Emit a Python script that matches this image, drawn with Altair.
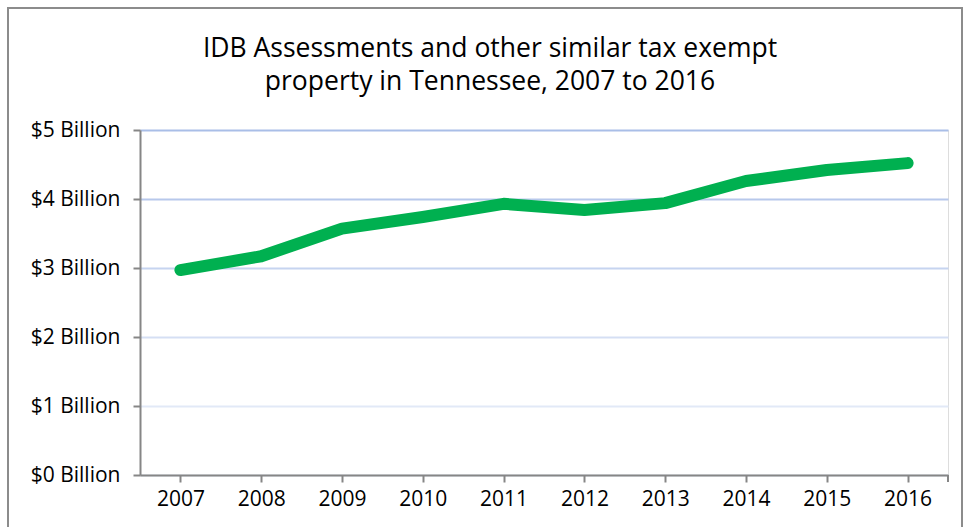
import altair as alt
import pandas as pd

years = ["2007", "2008", "2009", "2010", "2011", "2012", "2013", "2014", "2015", "2016"]
values = [2.97, 3.17, 3.57, 3.74, 3.93, 3.84, 3.94, 4.26, 4.42, 4.52]
y_ticks = [0, 1, 2, 3, 4, 5]
title_lines = ["IDB Assessments and other similar tax exempt", "property in Tennessee, 2007 to 2016"]

df = pd.DataFrame({"year": years, "value": values})
title_df = pd.DataFrame({"line": title_lines})

FONT = "Open Sans"

grid_color = {
    "condition": [
        {"test": "datum.value >= 5", "value": "#a9bee7"},
        {"test": "datum.value >= 4", "value": "#b7c8eb"},
        {"test": "datum.value >= 3", "value": "#c6d4f0"},
        {"test": "datum.value >= 2", "value": "#d5dff4"},
    ],
    "value": "#e2e9f7",
}

line = alt.Chart(df).mark_line(
    color="#00b050", strokeWidth=12, strokeCap="round", strokeJoin="round"
).encode(
    x=alt.X("year:O", sort=years, title=None,
            scale=alt.Scale(paddingInner=0, paddingOuter=0),
            axis=alt.Axis(labelAngle=0, labelFont=FONT, labelFontSize=21, labelColor="#000000",
                          labelPadding=6, tickSize=7, tickColor="#868686", domainColor="#868686",
                          domainWidth=2, tickWidth=2, bandPosition=0, grid=False)),
    y=alt.Y("value:Q", title=None,
            scale=alt.Scale(domain=[0, 5], nice=False),
            axis=alt.Axis(values=y_ticks, labelExpr="'$' + datum.value + ' Billion'",
                          labelFont=FONT, labelFontSize=21, labelColor="#000000",
                          labelPadding=13, tickSize=7, tickColor="#868686", domainColor="#868686",
                          domainWidth=2, tickWidth=2, gridColor=grid_color, gridWidth=2)),
)

frame = alt.Chart(df).mark_rect(fill=None, stroke="#8c8c8c", strokeWidth=2).encode(
    x=alt.value(-132), x2=alt.value(822), y=alt.value(-122), y2=alt.value(420)
)

end_tick = alt.Chart(df).mark_rule(color="#868686", strokeWidth=2).encode(
    x=alt.value(808), y=alt.value(345), y2=alt.value(352)
)

title = alt.Chart(title_df).mark_text(
    font=FONT, fontSize=26.5, color="#000000", align="center", baseline="alphabetic"
).transform_window(
    idx="row_number()"
).transform_calculate(
    ypos="-106 + 33 * datum.idx"
).encode(
    x=alt.value(350),
    y=alt.Y("ypos:Q", scale=None),
    text="line:N",
)

chart = alt.layer(frame, end_tick, line, title).properties(
    width=808,
    height=345,
    padding={"left": 140, "top": 130, "right": 16, "bottom": 52},
    autosize=alt.AutoSizeParams(type="none"),
).configure_view(stroke=None).configure(background="#ffffff")

chart.save("out.html", embed_options={"renderer": "svg", "actions": False})
